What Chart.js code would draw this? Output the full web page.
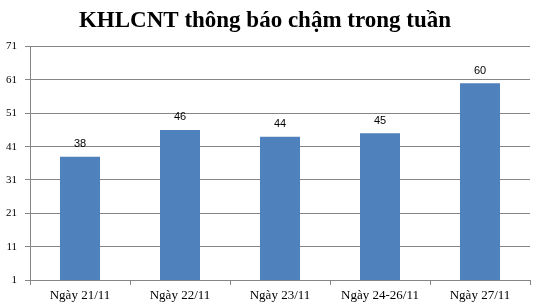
<!DOCTYPE html>
<html>
<head>
<meta charset="utf-8">
<script src="https://cdn.jsdelivr.net/npm/chart.js@4/dist/chart.umd.min.js"></script>
<style>
html,body{margin:0;padding:0;background:#fff;}
#wrap{width:540px;height:308px;position:relative;}
</style>
</head>
<body>
<div id="wrap"><canvas id="c" width="540" height="308"></canvas></div>
<script>
const categories = ["Ngày 21/11", "Ngày 22/11", "Ngày 23/11", "Ngày 24-26/11", "Ngày 27/11"];
const values = [38, 46, 44, 45, 60];
const yTicks = [1, 11, 21, 31, 41, 51, 61, 71];
const titleText = "KHLCNT thông báo chậm trong tuần";

const valueLabels = {
  id: 'valueLabels',
  afterDatasetsDraw(chart) {
    const ctx = chart.ctx;
    const meta = chart.getDatasetMeta(0);
    ctx.save();
    ctx.font = '11px "Liberation Sans", Arial, sans-serif';
    ctx.fillStyle = '#000';
    ctx.textAlign = 'center';
    ctx.textBaseline = 'bottom';
    meta.data.forEach((bar, i) => {
      ctx.fillText(String(values[i]), bar.x, bar.y - 7);
    });
    ctx.restore();
  }
};

new Chart(document.getElementById('c'), {
  type: 'bar',
  data: {
    labels: categories,
    datasets: [{
      data: values,
      backgroundColor: '#4F81BD',
      borderWidth: 0,
      categoryPercentage: 1.0,
      barPercentage: 0.4
    }]
  },
  options: {
    responsive: false,
    animation: false,
    devicePixelRatio: 1,
    layout: { padding: { left: 0, right: 10, top: 0, bottom: 0 } },
    plugins: {
      legend: { display: false },
      tooltip: { enabled: false },
      title: {
        display: true,
        text: titleText,
        color: '#000',
        font: { family: '"Liberation Serif", "Times New Roman", serif', size: 23, weight: 'bold', lineHeight: 1.2 },
        padding: { top: 7, bottom: 12 }
      }
    },
    scales: {
      x: {
        grid: { drawOnChartArea: false, drawTicks: true, tickLength: 5, color: '#868686', offset: true },
        border: { display: true, color: '#868686', width: 1 },
        ticks: {
          color: '#000',
          font: { family: '"Liberation Serif", "Times New Roman", serif', size: 13 },
          padding: 3,
          maxRotation: 0,
          autoSkip: false
        },
        afterFit(scale) { scale.height = 28; }
      },
      y: {
        min: 1,
        max: 71,
        afterBuildTicks(scale) { scale.ticks = yTicks.map(v => ({ value: v })); },
        grid: { color: '#868686', drawTicks: true, tickLength: 5, lineWidth: 1 },
        border: { display: true, color: '#868686', width: 1 },
        ticks: {
          color: '#000',
          font: { family: '"Liberation Serif", "Times New Roman", serif', size: 11 },
          padding: 8
        },
        afterFit(scale) { scale.width = 30; }
      }
    }
  },
  plugins: [valueLabels]
});
</script>
</body>
</html>
